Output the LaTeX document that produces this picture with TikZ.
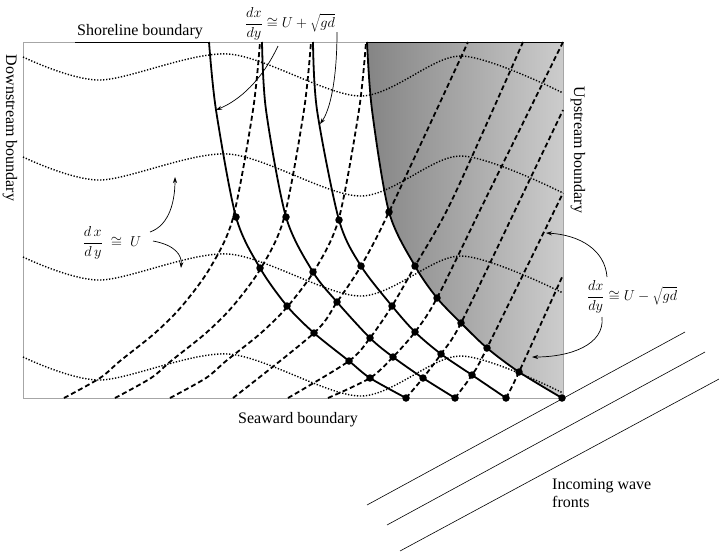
\documentclass[tikz,border=0pt]{standalone}
\usepackage{fontspec}
\setmainfont{Liberation Serif}
\usetikzlibrary{arrows.meta}
\begin{document}
\begin{tikzpicture}[x=1pt,y=-1pt,
  solidc/.style={line width=1.8pt},
  dashc/.style={line width=1.8pt,dash pattern=on 5pt off 3pt},
  dotc/.style={line width=1.4pt,dash pattern=on 1.3pt off 1.7pt},
  dotn/.style={circle,fill=black,inner sep=0pt,minimum size=7.5pt},
  lbl/.style={font=\fontsize{16}{18}\selectfont,inner sep=0pt},
  mlbl/.style={font=\fontsize{14}{16}\selectfont,inner sep=0pt},
  arr/.style={-{Stealth[length=6pt,width=4pt]},line width=0.7pt},
  wave/.style={line width=0.6pt}]
\useasboundingbox (0,0) rectangle (719,552);
\shade[left color=black!48,right color=black!20]
  plot[smooth] coordinates {(367,42) (372,110) (389,212) (415,266) (437,298) (461,323) (487,348) (519,372) (562,398)}
  -- (563,398) -- (563,42) -- cycle;
\draw[gray!70,line width=0.7pt] (23,42) rectangle (563,398);
\draw[line width=0.9pt] (75,42) -- (209,42);
\draw[line width=0.9pt] (367,42) -- (563,42);
\foreach \o in {0,100,200,300}{
  \draw[dotc] plot[smooth] coordinates {({23},{57+\o}) ({100},{80+\o}) ({228},{54+\o}) ({360},{96+\o}) ({460},{56+\o}) ({563},{93+\o})};
}
\foreach \c in {260,311,366}{
  \draw[dashc] plot[smooth] coordinates {({\c-196},398) ({\c-160},378) ({\c-140},361) ({\c-105},333) ({\c-78},306) ({\c-50},268) ({\c-27},218) ({\c-7},110) ({\c},42)};
}
\draw[dashc] plot[smooth] coordinates {(233,398) (314,333) (337,302) (361,266) (389,212) (468,42)};
\draw[dashc] plot[smooth] coordinates {(288,398) (349,361) (370,338) (392,306) (415,266) (452,200) (523,42)};
\draw[dashc] plot[smooth] coordinates {(328,398) (370,378) (393,357) (415,332) (437,298) (485,200) (563,42)};
\draw[dashc] plot[smooth] coordinates {(406,398) (423,378) (441,354) (461,323) (520,200) (563,110)};
\draw[dashc] plot[smooth] coordinates {(455,398) (472,375) (487,348) (563,193)};
\draw[dashc] plot[smooth] coordinates {(506,398) (519,372) (563,275)};
\draw[solidc] plot[smooth] coordinates {(209,42) (216,110) (236,217) (260,268) (287,306) (314,333) (349,361) (370,378) (406,398)};
\draw[solidc] plot[smooth] coordinates {(262,42) (266,110) (286,217) (313,272) (337,302) (370,338) (393,357) (423,378) (455,398)};
\draw[solidc] plot[smooth] coordinates {(313,42) (317,110) (339,220) (361,266) (392,306) (415,332) (441,354) (472,375) (506,398)};
\draw[solidc] plot[smooth] coordinates {(367,42) (372,110) (389,212) (415,266) (437,298) (461,323) (487,348) (519,372) (562,398)};
\foreach \p [count=\i] in {(236,217),(260,268),(287,306),(314,333),(349,361),(370,378),(406,398),
  (286,217),(313,272),(337,302),(370,338),(393,357),(423,378),(455,398),
  (339,220),(361,266),(392,306),(415,332),(441,354),(472,375),(506,398),
  (389,212),(415,266),(437,298),(461,323),(487,348),(519,372),(562,398)}
  \node[dotn] (d\i) at \p {};
\coordinate (w1a) at (367,505); \coordinate (w1b) at (685,332);
\coordinate (w2a) at (387,525); \coordinate (w2b) at (705,352);
\coordinate (w3a) at (400,551); \coordinate (w3b) at (719,379);
\draw[wave] (w1a) -- (w1b);
\draw[wave] (w2a) -- (w2b);
\draw[wave] (w3a) -- (w3b);
\node[lbl] (shore) at (140,32) {Shoreline boundary};
\node[lbl,rotate=-90] (down) at (10,128) {Downstream boundary};
\node[lbl,rotate=-90] (up) at (578,150) {Upstream boundary};
\node[lbl] (sea) at (298,420) {Seaward boundary};
\node[lbl,align=left,anchor=north west] (inc) at (552,479) {Incoming wave\\fronts};
\node[mlbl] (m1) at (290,24) {$\displaystyle\frac{dx}{dy}\cong U+\sqrt{gd}$};
\node[mlbl] (m2) at (112,243) {$\displaystyle\frac{d\,x}{d\,y}\;\cong\;U$};
\node[mlbl] (m3) at (632,297) {$\displaystyle\frac{dx}{dy}\cong U-\sqrt{gd}$};
\coordinate (t1) at (216,110); \coordinate (t2) at (320,124);
\coordinate (t3) at (175,177); \coordinate (t4) at (181,268);
\coordinate (t5) at (546,233); \coordinate (t6) at (532,357);
\draw[arr] (278,46) .. controls (262,80) and (240,100) .. (t1);
\draw[arr] (337,32) .. controls (337,80) and (330,110) .. (t2);
\draw[arr] (150,232) .. controls (170,225) and (175,200) .. (t3);
\draw[arr] (153,241) .. controls (175,245) and (182,255) .. (t4);
\draw[arr] (607,277) .. controls (605,250) and (580,235) .. (t5);
\draw[arr] (602,317) .. controls (605,345) and (570,357) .. (t6);
\end{tikzpicture}
\end{document}
